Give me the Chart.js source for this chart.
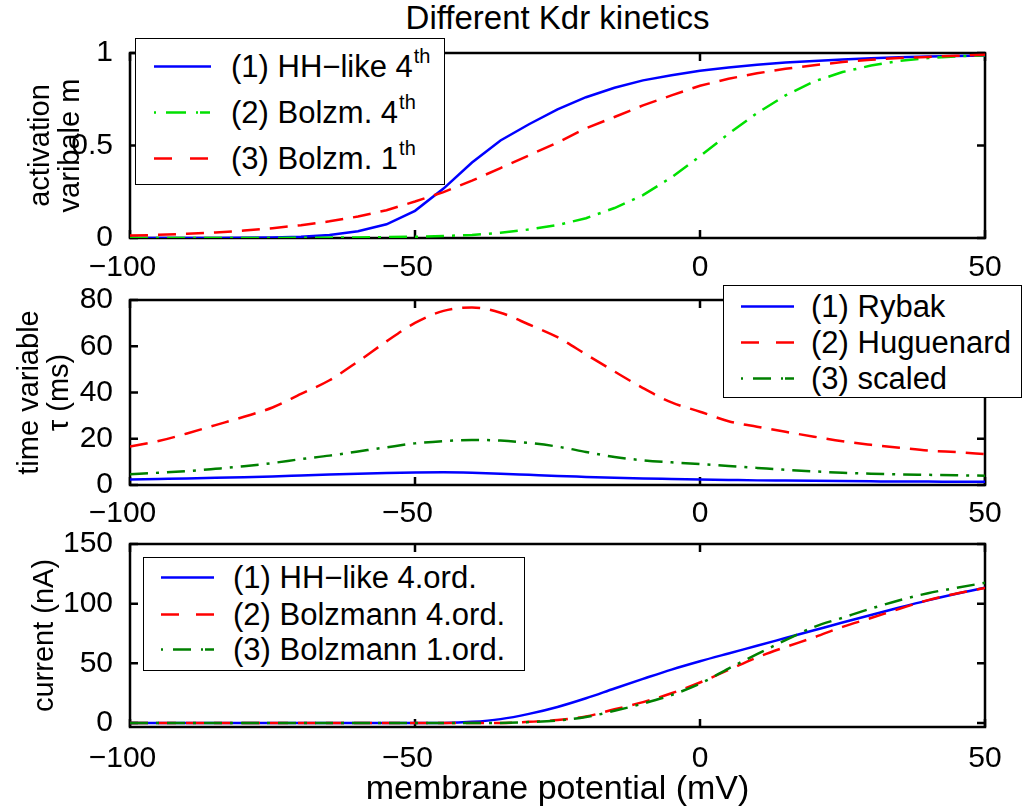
<!DOCTYPE html>
<html>
<head>
<meta charset="utf-8">
<script src="https://cdn.jsdelivr.net/npm/chart.js@4.4.1/dist/chart.umd.min.js"></script>
<style>
body{margin:0;background:#fff;width:1022px;height:811px;overflow:hidden;position:relative;font-family:"Liberation Sans",Arial,sans-serif;color:#000}
canvas{position:absolute;left:0;top:0}
#title{position:absolute;left:130px;width:855px;top:0;text-align:center;font-size:33px;line-height:36px}
.legend{position:absolute;background:#fff;border:1.5px solid #000;box-sizing:border-box;font-size:31px}
.legend .txt{position:absolute;white-space:nowrap;line-height:34px;height:34px}
.legend sup{font-size:20px;vertical-align:0;position:relative;top:-14px;margin-left:1px}
.legend svg{position:absolute;left:0;top:0;overflow:visible}
</style>
</head>
<body>
<div id="title">Different Kdr kinetics</div>
<canvas id="c1" width="1022" height="811"></canvas>
<canvas id="c2" width="1022" height="811"></canvas>
<canvas id="c3" width="1022" height="811"></canvas>
<script>
// membrane potential grid (mV)
const voltage = [-100,-95,-90,-85,-80,-75,-70,-65,-60,-55,-50,-45,-40,-35,-30,-25,-20,-15,-10,-5,0,5,10,15,20,25,30,35,40,45,50];
const xTicks = [-100,-50,0,50];

// activation variable m
const mHH = [0,0,0,0,0.001,0.003,0.007,0.016,0.037,0.074,0.147,0.267,0.408,0.527,0.615,0.695,0.761,0.812,0.852,0.880,0.904,0.921,0.936,0.948,0.957,0.965,0.972,0.977,0.981,0.984,0.987];
const mBolz4 = [0,0,0,0,0,0,0.001,0.002,0.003,0.005,0.007,0.011,0.016,0.028,0.046,0.070,0.107,0.162,0.232,0.328,0.442,0.563,0.675,0.771,0.846,0.897,0.932,0.957,0.973,0.982,0.988];
const mBolz1 = [0.013,0.017,0.023,0.030,0.040,0.053,0.069,0.090,0.116,0.150,0.197,0.248,0.310,0.378,0.447,0.516,0.593,0.654,0.717,0.771,0.823,0.861,0.890,0.915,0.934,0.951,0.964,0.973,0.979,0.985,0.990];
const mTicks = [0,0.5,1];
const mLabels = ['(1) HH\u2212like 4<sup>th</sup>','(2) Bolzm. 4<sup>th</sup>','(3) Bolzm. 1<sup>th</sup>'];

// time constant tau (ms)
const tauRybak = [2.4,2.6,2.8,3.1,3.4,3.7,4.1,4.5,4.9,5.2,5.4,5.5,5.3,4.9,4.4,3.9,3.5,3.1,2.8,2.6,2.4,2.2,2.0,1.9,1.8,1.7,1.6,1.5,1.5,1.4,1.4];
const tauHuguenard = [16.6,19.0,22.3,25.9,29.5,33.5,39.4,45.3,53.4,62.1,70.1,75.3,76.8,74.5,69.4,63.9,56.5,49.1,41.9,35.7,31.7,27.6,25.2,23.0,20.9,18.9,17.4,16.1,14.9,14.2,13.4];
const tauScaled = [4.7,5.3,6.0,7.0,8.1,9.5,11.2,12.7,14.5,16.3,18.0,19.0,19.5,19.2,18.2,16.6,14.3,12.1,10.7,9.8,9.1,8.2,7.4,6.6,5.9,5.3,4.9,4.6,4.4,4.2,4.0];
const tauTicks = [0,20,40,60,80];
const tauLabels = ['(1) Rybak','(2) Huguenard','(3) scaled'];

// current (nA)
const iHH = [0,0,0,0,0,0,0,0,0,0,0,0.1,1.0,3.3,7.7,13.5,20.8,29.0,37.0,44.8,51.8,58.3,64.7,71.2,77.7,84.2,90.5,96.8,102.8,108.3,113.3];
const iBolz4 = [0,0,0,0,0,0,0,0,0,0,0,0,0,0,1.0,2.5,5.5,11.5,17.5,25.0,34.0,44.5,55.0,63.7,71.8,80.6,88.0,95.7,103.0,108.5,113.2];
const iBolz1 = [0,0,0,0,0,0,0,0,0,0,0,0,0,0,0.8,2.2,5.0,10.3,16.3,23.5,33.0,45.6,57.7,69.4,80.5,88.2,95.9,102.9,108.8,113.3,117.5];
const iTicks = [0,50,100,150];
const iLabels = ['(1) HH\u2212like 4.ord.','(2) Bolzmann 4.ord.','(3) Bolzmann 1.ord.'];

const BLUE = '#0000ff', RED = '#ff0000', LIME = '#00e000', GREEN = '#008000';
const SOLID = [], DASH = [18, 10], DASHDOT = [18, 8, 3, 8];

Chart.defaults.font.family = '"Liberation Sans", Arial, sans-serif';
Chart.defaults.color = '#000';

const minus = v => String(v).replace('-', '\u2212');
// negative x labels keep their digits centred under the tick, minus hanging left
const xLabel = v => v < 0 ? minus(v) + '\u2002' : String(v);

// box round the axes with inward ticks on all four sides
const boxPlugin = {
  id: 'box',
  beforeDatasetsDraw(chart) {
    const {ctx, chartArea: a, scales: {x, y}} = chart;
    ctx.save();
    ctx.strokeStyle = '#000';
    ctx.lineWidth = 2.5;
    ctx.strokeRect(a.left, a.top, a.right - a.left, a.bottom - a.top);
    ctx.beginPath();
    x.ticks.forEach(t => {
      const p = x.getPixelForValue(t.value);
      ctx.moveTo(p, a.bottom); ctx.lineTo(p, a.bottom - 8);
      ctx.moveTo(p, a.top); ctx.lineTo(p, a.top + 8);
    });
    y.ticks.forEach(t => {
      const p = y.getPixelForValue(t.value);
      ctx.moveTo(a.left, p); ctx.lineTo(a.left + 8, p);
      ctx.moveTo(a.right, p); ctx.lineTo(a.right - 8, p);
    });
    ctx.stroke();
    ctx.restore();
  }
};

function series(label, values, color, dash, i, smooth) {
  return {
    label, data: values.map((v, k) => ({x: voltage[k], y: v})),
    borderColor: color, backgroundColor: color, borderDash: dash,
    borderWidth: 2.5, pointRadius: 0, fill: false, order: 3 - i,
    tension: smooth ? 0.4 : 0, cubicInterpolationMode: smooth ? 'monotone' : 'default'
  };
}

function makeChart(id, cfg) {
  return new Chart(document.getElementById(id), {
    type: 'line',
    data: {datasets: cfg.datasets},
    plugins: [boxPlugin],
    options: {
      responsive: false, animation: false,
      layout: {padding: {left: 0, right: 37, top: cfg.top, bottom: cfg.bottom}},
      plugins: {legend: {display: false}, tooltip: {enabled: false}},
      scales: {
        x: {
          type: 'linear', min: -100, max: 50,
          grid: {display: false}, border: {display: false},
          afterBuildTicks: s => { s.ticks = xTicks.map(v => ({value: v})); },
          afterFit: s => { s.height = cfg.xHeight; },
          ticks: {font: {size: 30, lineHeight: 1.2}, padding: cfg.xPad, maxRotation: 0, callback: xLabel},
          title: cfg.xTitle ? {display: true, text: cfg.xTitle, font: {size: 34, lineHeight: 1.2}, padding: {top: 0, bottom: 1}} : {display: false}
        },
        y: {
          min: cfg.yMin, max: cfg.yMax,
          grid: {display: false}, border: {display: false},
          afterBuildTicks: s => { s.ticks = cfg.yTicks.map(v => ({value: v})); },
          afterFit: s => { s.width = 130; },
          ticks: {font: {size: 30}, padding: 9, callback: minus},
          title: {display: true, text: cfg.yTitle, font: {size: 29, lineHeight: '30px'}, padding: {top: cfg.yTitlePad, bottom: 0}}
        }
      }
    }
  });
}

makeChart('c1', {
  top: 53, bottom: 523, xHeight: 50, xPad: 4,
  yMin: 0, yMax: 1, yTicks: mTicks, yTitle: ['activation', 'varibale m'], yTitlePad: 26,
  datasets: [
    series(mLabels[0], mHH, BLUE, SOLID, 0, false),
    series(mLabels[1], mBolz4, LIME, DASHDOT, 1, false),
    series(mLabels[2], mBolz1, RED, DASH, 2, false)
  ]
});

makeChart('c2', {
  top: 300, bottom: 276, xHeight: 50, xPad: 3,
  yMin: 0, yMax: 80, yTicks: tauTicks, yTitle: ['time variable', '\u03c4 (ms)'], yTitlePad: 15,
  datasets: [
    series(tauLabels[0], tauRybak, BLUE, SOLID, 0, true),
    series(tauLabels[1], tauHuguenard, RED, DASH, 1, true),
    series(tauLabels[2], tauScaled, GREEN, DASHDOT, 2, true)
  ]
});

makeChart('c3', {
  top: 544, bottom: 0, xHeight: 84, xPad: 6, xTitle: 'membrane potential (mV)',
  yMin: -3.3, yMax: 150, yTicks: iTicks, yTitle: 'current (nA)', yTitlePad: 30,
  datasets: [
    series(iLabels[0], iHH, BLUE, SOLID, 0, true),
    series(iLabels[1], iBolz4, RED, DASH, 1, true),
    series(iLabels[2], iBolz1, GREEN, DASHDOT, 2, true)
  ]
});

// legend boxes, styled from each chart's datasets
function legend(chartId, box) {
  const chart = Chart.getChart(chartId);
  const div = document.createElement('div');
  div.className = 'legend';
  Object.assign(div.style, {left: box.left + 'px', top: box.top + 'px', width: box.width + 'px', height: box.height + 'px'});
  let svg = '<svg width="' + box.width + '" height="' + box.height + '">';
  chart.data.datasets.forEach((ds, i) => {
    const y = box.rows[i] - 1.5;
    svg += '<line x1="' + box.sample[0] + '" x2="' + box.sample[1] + '" y1="' + y + '" y2="' + y +
      '" stroke="' + ds.borderColor + '" stroke-width="2.5"' +
      (ds.borderDash.length ? ' stroke-dasharray="' + box.dashes[i] + '"' : '') + '/>';
  });
  svg += '</svg>';
  div.innerHTML = svg;
  chart.data.datasets.forEach((ds, i) => {
    const t = document.createElement('div');
    t.className = 'txt';
    t.style.left = box.textX + 'px';
    t.style.top = (box.rows[i] - 1.5 - 17) + 'px';
    t.innerHTML = ds.label;
    div.appendChild(t);
  });
  document.body.appendChild(div);
}

legend('c1', {left: 135, top: 38, width: 310, height: 147, rows: [29, 75, 121], sample: [18, 75], textX: 95,
  dashes: ['', '2 10 20 10 2', '18 18 18']});
legend('c2', {left: 723, top: 285, width: 299, height: 113, rows: [22, 58, 94], sample: [17, 70], textX: 87,
  dashes: ['', '18 17 18', '2 10 18 10 2']});
legend('c3', {left: 143, top: 557, width: 382, height: 114, rows: [21, 58, 93], sample: [17, 70], textX: 89,
  dashes: ['', '18 17 18', '2 10 18 10 2']});
</script>
</body>
</html>
